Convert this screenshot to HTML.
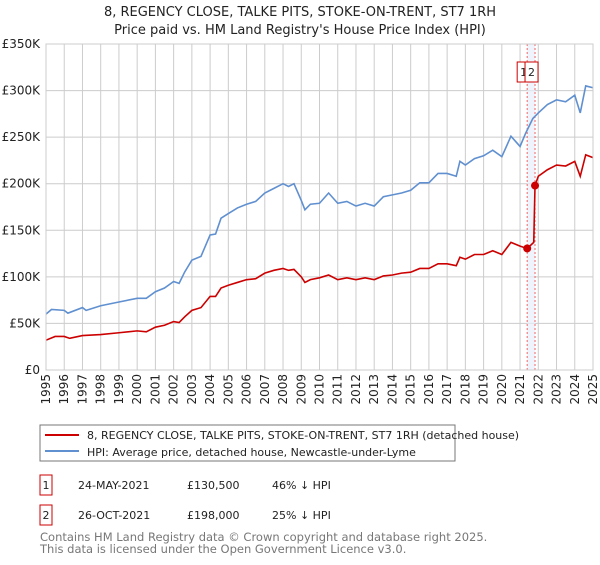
<!DOCTYPE html>
<html><head><meta charset="utf-8"><style>
body{margin:0;background:#fff;font-family:"Liberation Sans","DejaVu Sans",sans-serif;}
svg text{font-family:"DejaVu Sans","Liberation Sans",sans-serif;}
</style></head><body>
<svg id="chart" width="600" height="560" xmlns="http://www.w3.org/2000/svg">
<text x="300" y="16" text-anchor="middle" font-size="13" fill="#222">8, REGENCY CLOSE, TALKE PITS, STOKE-ON-TRENT, ST7 1RH</text>
<text x="300" y="34" text-anchor="middle" font-size="13" fill="#222">Price paid vs. HM Land Registry's House Price Index (HPI)</text>
<g id="grid"></g><g id="marks"></g><g id="axes"></g>
<rect x="40" y="425" width="415" height="36" fill="#fff" stroke="#777"/>
<line x1="45" y1="435" x2="79" y2="435" stroke="#cc0000" stroke-width="2"/>
<text x="87" y="439" font-size="11" fill="#222">8, REGENCY CLOSE, TALKE PITS, STOKE-ON-TRENT, ST7 1RH (detached house)</text>
<line x1="45" y1="451" x2="79" y2="451" stroke="#6090d0" stroke-width="2"/>
<text x="87" y="456" font-size="11" fill="#222">HPI: Average price, detached house, Newcastle-under-Lyme</text>
<g font-size="11" fill="#222">
<rect x="40" y="475" width="12" height="20" fill="#fff" stroke="#cc0000"/><text x="46" y="489" text-anchor="middle">1</text>
<text x="78" y="489">24-MAY-2021</text><text x="187" y="489">£130,500</text><text x="272" y="489">46% ↓ HPI</text></g>
<g font-size="11" fill="#222">
<rect x="40" y="505" width="12" height="20" fill="#fff" stroke="#cc0000"/><text x="46" y="519" text-anchor="middle">2</text>
<text x="78" y="519">26-OCT-2021</text><text x="187" y="519">£198,000</text><text x="272" y="519">25% ↓ HPI</text></g>
<text x="40" y="541" font-size="11.5" fill="#777">Contains HM Land Registry data © Crown copyright and database right 2025.</text>
<text x="40" y="553" font-size="11.5" fill="#777">This data is licensed under the Open Government Licence v3.0.</text>
</svg>
<script>
const hpiYears=[1995,1995.3,1996,1996.2,1997,1997.2,1998,1999,2000,2000.5,2001,2001.5,2002,2002.3,2002.6,2003,2003.5,2004,2004.3,2004.6,2005,2005.5,2006,2006.5,2007,2007.5,2008,2008.3,2008.6,2009,2009.2,2009.5,2010,2010.5,2011,2011.5,2012,2012.5,2013,2013.5,2014,2014.5,2015,2015.5,2016,2016.5,2017,2017.5,2017.7,2018,2018.5,2019,2019.5,2020,2020.5,2021,2021.3,2021.7,2022,2022.5,2023,2023.5,2024,2024.3,2024.6,2025];
const hpiValues=[60,65,64,61,67,64,69,73,77,77,84,88,95,93,105,118,122,145,146,163,168,174,178,181,190,195,200,197,200,182,172,178,179,190,179,181,176,179,176,186,188,190,193,201,201,211,211,208,224,220,227,230,236,229,251,240,254,270,276,285,290,288,295,276,305,303];
const priceYears=[1995,1995.5,1996,1996.3,1997,1998,1999,2000,2000.5,2001,2001.5,2002,2002.3,2002.6,2003,2003.5,2004,2004.3,2004.6,2005,2005.5,2006,2006.5,2007,2007.5,2008,2008.3,2008.6,2009,2009.2,2009.5,2010,2010.5,2011,2011.5,2012,2012.5,2013,2013.5,2014,2014.5,2015,2015.5,2016,2016.5,2017,2017.5,2017.7,2018,2018.5,2019,2019.5,2020,2020.5,2021,2021.39,2021.75,2021.82,2022,2022.5,2023,2023.5,2024,2024.3,2024.6,2025];
const priceValues=[32,36,36,34,37,38,40,42,41,46,48,52,51,57,64,67,79,79,88,91,94,97,98,104,107,109,107,108,100,94,97,99,102,97,99,97,99,97,101,102,104,105,109,109,114,114,112,121,119,124,124,128,124,137,133,130.5,137,198,208,215,220,219,224,208,231,228];
const saleYears=[2021.39,2021.82];
const saleValues=[130.5,198];
const saleLabels=["1","2"];
const yTicks=[0,50,100,150,200,250,300,350];
const yTickLabels=["£0","£50K","£100K","£150K","£200K","£250K","£300K","£350K"];
const xTicks=[1995,1996,1997,1998,1999,2000,2001,2002,2003,2004,2005,2006,2007,2008,2009,2010,2011,2012,2013,2014,2015,2016,2017,2018,2019,2020,2021,2022,2023,2024,2025];

const NS="http://www.w3.org/2000/svg";
const X0=46,X1=593,Y0=370,Y1=44;
const xs=y=>X0+(y-1995)/30*(X1-X0);
const ys=v=>Y0-v/350*(Y0-Y1);
function mk(parent,tag,attrs){const e=document.createElementNS(NS,tag);for(const k in attrs)e.setAttribute(k,attrs[k]);parent.appendChild(e);return e;}
const grid=document.getElementById('grid'),marks=document.getElementById('marks'),axes=document.getElementById('axes');
yTicks.forEach((t,i)=>{
 const l=mk(grid,'line',{x1:X0,x2:X1,y1:ys(t),y2:ys(t),stroke:'#ccc'});
 
 
 const tx=mk(axes,'text',{x:40,y:ys(t)+4,'text-anchor':'end','font-size':'12',fill:'#222'});
 tx.textContent=yTickLabels[i];
 
 
});
xTicks.forEach(t=>{
 const l=mk(grid,'line',{x1:xs(t),x2:xs(t),y1:Y1,y2:Y0,stroke:'#ccc'});
 
 
 const tx=mk(axes,'text',{x:0,y:0,'text-anchor':'end','font-size':'12',fill:'#222',transform:`translate(${xs(t)+4},374) rotate(-90)`});
 tx.textContent=t;
 
 
});
const band=mk(grid,'rect',{x:xs(saleYears[0]),y:Y1,width:xs(saleYears[1])-xs(saleYears[0]),height:Y0-Y1,fill:'#e8eefa',opacity:'0.7'});


saleYears.forEach((s,i)=>{
 const l=mk(grid,'line',{x1:xs(s),x2:xs(s),y1:Y1,y2:Y0,stroke:'#ee6666','stroke-dasharray':'2,2'});
 
 
});
const fr=mk(axes,'rect',{x:X0,y:Y1,width:X1-X0,height:Y0-Y1,fill:'none',stroke:'#ccc'});


const hp=mk(marks,'polyline',{points:hpiYears.map((y,i)=>xs(y)+','+ys(hpiValues[i])).join(' '),fill:'none',stroke:'#6090d0','stroke-width':'1.6'});


const pp=mk(marks,'polyline',{points:priceYears.map((y,i)=>xs(y)+','+ys(priceValues[i])).join(' '),fill:'none',stroke:'#cc0000','stroke-width':'1.6'});


saleYears.forEach((s,i)=>{
 const c=mk(marks,'circle',{cx:xs(s),cy:ys(saleValues[i]),r:4,fill:'#cc0000'});
 
 
 const bx=i===0?xs(s)-10:xs(s)-10;
 const r=mk(marks,'rect',{x:bx,y:62,width:13,height:20,fill:'#fff',stroke:'#cc0000'});
 
 
 const t=mk(marks,'text',{x:bx+6.5,y:76,'text-anchor':'middle','font-size':'11',fill:'#222'});
 t.textContent=saleLabels[i];
 
 
});
</script>
</body></html>
